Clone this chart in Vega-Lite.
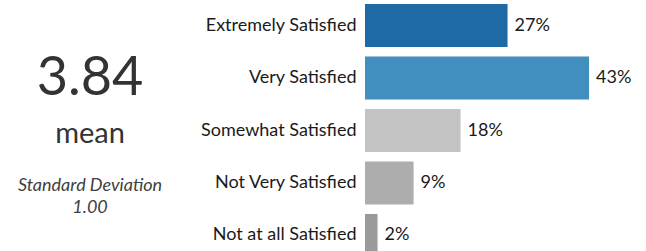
{
  "$schema": "https://vega.github.io/schema/vega-lite/v6.json",
  "padding": 0,
  "spacing": 185,
  "bounds": "flush",
  "background": "white",
  "config": {"view": {"stroke": null}, "font": "Lato"},
  "hconcat": [
    {
      "width": 180,
      "height": 261,
      "data": {"values": [
        {"row": "value", "text": "3.84"},
        {"row": "label", "text": "mean"},
        {"row": "sd", "text": "Standard Deviation\n1.00"}
      ]},
      "layer": [
        {
          "transform": [{"filter": "datum.row === 'value'"}],
          "mark": {"type": "text", "fontSize": 54, "color": "#333333", "align": "center", "baseline": "alphabetic"},
          "encoding": {
            "y": {"field": "row", "type": "ordinal", "scale": {"type": "point", "padding": 0, "domain": ["value", "label", "sd"], "range": [95, 191]}, "axis": null},
            "text": {"field": "text"}
          }
        },
        {
          "transform": [{"filter": "datum.row === 'label'"}],
          "mark": {"type": "text", "fontSize": 29, "color": "#333333", "align": "center", "baseline": "alphabetic"},
          "encoding": {
            "y": {"field": "row", "type": "ordinal", "scale": {"type": "point", "padding": 0, "domain": ["value", "label", "sd"], "range": [95, 191]}, "axis": null},
            "text": {"field": "text"}
          }
        },
        {
          "transform": [{"filter": "datum.row === 'sd'"}],
          "mark": {"type": "text", "fontSize": 18, "fontStyle": "italic", "color": "#404040", "align": "center", "baseline": "alphabetic", "lineBreak": "\n", "lineHeight": 22},
          "encoding": {
            "y": {"field": "row", "type": "ordinal", "scale": {"type": "point", "padding": 0, "domain": ["value", "label", "sd"], "range": [95, 191]}, "axis": null},
            "text": {"field": "text"}
          }
        }
      ]
    },
    {
      "width": 282,
      "height": 261,
      "data": {"values": [
        {"level": "Extremely Satisfied", "pct": 27.3, "label": "27%"},
        {"level": "Very Satisfied", "pct": 42.9, "label": "43%"},
        {"level": "Somewhat Satisfied", "pct": 18.3, "label": "18%"},
        {"level": "Not Very Satisfied", "pct": 9.3, "label": "9%"},
        {"level": "Not at all Satisfied", "pct": 2.4, "label": "2%"}
      ]},
      "encoding": {
        "y": {
          "field": "level", "type": "nominal", "sort": null,
          "scale": {"paddingInner": 0.18, "paddingOuter": 0.076},
          "axis": {"title": null, "domain": false, "ticks": false, "labelPadding": 9, "labelFontSize": 18, "labelColor": "#1a1a1a", "labelLimit": 400, "grid": false}
        },
        "x": {"field": "pct", "type": "quantitative", "scale": {"domain": [0, 54]}, "axis": null}
      },
      "layer": [
        {
          "mark": {"type": "bar"},
          "encoding": {
            "color": {
              "field": "level", "type": "nominal", "legend": null,
              "scale": {
                "domain": ["Extremely Satisfied", "Very Satisfied", "Somewhat Satisfied", "Not Very Satisfied", "Not at all Satisfied"],
                "range": ["#1f6aa5", "#428ebe", "#c3c3c3", "#adadad", "#9a9a9a"]
              }
            }
          }
        },
        {
          "mark": {"type": "text", "align": "left", "baseline": "middle", "dx": 7, "fontSize": 18, "color": "#1a1a1a"},
          "encoding": {"text": {"field": "label"}}
        }
      ]
    }
  ]
}
